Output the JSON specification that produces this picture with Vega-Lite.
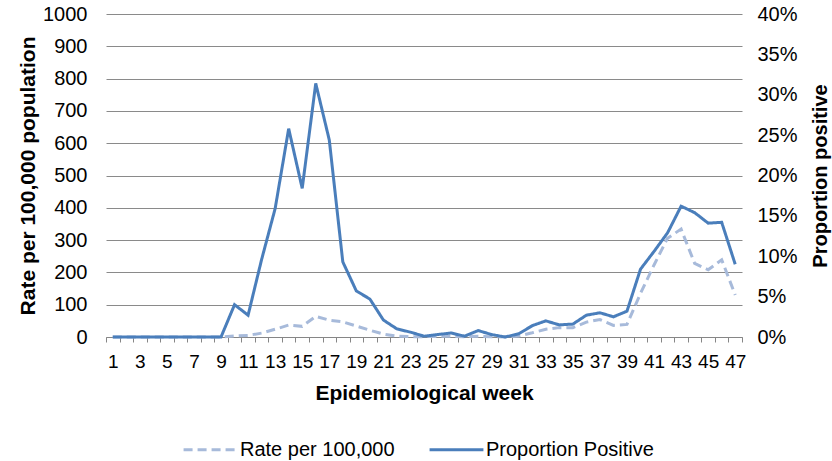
{
  "$schema": "https://vega.github.io/schema/vega-lite/v6.json",
  "width": 636,
  "height": 323,
  "autosize": "none",
  "padding": {"left": 106, "top": 14, "right": 90, "bottom": 124},
  "background": "white",
  "config": {
    "font": "Liberation Sans",
    "view": {"stroke": null},
    "axis": {"labelColor": "#000000", "titleColor": "#000000", "labelFontSize": 20, "titleFontSize": 21, "titleFontWeight": "bold", "labelFont": "Liberation Sans", "titleFont": "Liberation Sans"}
  },
  "data": {
    "values": [
      {"week": 1, "rate": 0, "prop": 0},
      {"week": 2, "rate": 0, "prop": 0},
      {"week": 3, "rate": 0, "prop": 0},
      {"week": 4, "rate": 0, "prop": 0},
      {"week": 5, "rate": 0, "prop": 0},
      {"week": 6, "rate": 0, "prop": 0},
      {"week": 7, "rate": 0, "prop": 0},
      {"week": 8, "rate": 0, "prop": 0},
      {"week": 9, "rate": 0, "prop": 0},
      {"week": 10, "rate": 3, "prop": 0.040},
      {"week": 11, "rate": 5, "prop": 0.027},
      {"week": 12, "rate": 12, "prop": 0.096},
      {"week": 13, "rate": 24, "prop": 0.159},
      {"week": 14, "rate": 37, "prop": 0.258},
      {"week": 15, "rate": 33, "prop": 0.184},
      {"week": 16, "rate": 64, "prop": 0.314},
      {"week": 17, "rate": 52, "prop": 0.244},
      {"week": 18, "rate": 47, "prop": 0.093},
      {"week": 19, "rate": 34, "prop": 0.057},
      {"week": 20, "rate": 21, "prop": 0.047},
      {"week": 21, "rate": 9, "prop": 0.021},
      {"week": 22, "rate": 3, "prop": 0.010},
      {"week": 23, "rate": 1, "prop": 0.006},
      {"week": 24, "rate": 1, "prop": 0.001},
      {"week": 25, "rate": 2, "prop": 0.003},
      {"week": 26, "rate": 2, "prop": 0.005},
      {"week": 27, "rate": 1, "prop": 0.001},
      {"week": 28, "rate": 2, "prop": 0.008},
      {"week": 29, "rate": 1, "prop": 0.003},
      {"week": 30, "rate": 0, "prop": 0},
      {"week": 31, "rate": 3, "prop": 0.004},
      {"week": 32, "rate": 13, "prop": 0.014},
      {"week": 33, "rate": 24, "prop": 0.020},
      {"week": 34, "rate": 29, "prop": 0.015},
      {"week": 35, "rate": 29, "prop": 0.016},
      {"week": 36, "rate": 46, "prop": 0.027},
      {"week": 37, "rate": 54, "prop": 0.030},
      {"week": 38, "rate": 36, "prop": 0.025},
      {"week": 39, "rate": 39, "prop": 0.032},
      {"week": 40, "rate": 135, "prop": 0.084},
      {"week": 41, "rate": 223, "prop": 0.106},
      {"week": 42, "rate": 306, "prop": 0.129},
      {"week": 43, "rate": 334, "prop": 0.162},
      {"week": 44, "rate": 228, "prop": 0.154},
      {"week": 45, "rate": 208, "prop": 0.141},
      {"week": 46, "rate": 239, "prop": 0.142},
      {"week": 47, "rate": 130, "prop": 0.090}
    ]
  },
  "encoding": {
    "x": {
      "field": "week",
      "type": "ordinal",
      "scale": {"type": "band", "paddingInner": 0, "paddingOuter": 0},
      "axis": {
        "title": "Epidemiological week",
        "labelAngle": 0,
        "labelFontSize": 19,
        "labelOverlap": false,
        "labelExpr": "datum.value % 2 == 1 ? datum.label : ''",
        "tickBand": "extent",
        "tickSize": 5,
        "tickColor": "#868686",
        "domainColor": "#868686",
        "labelPadding": 10,
        "titlePadding": 11,
        "grid": false
      }
    }
  },
  "layer": [
    {
      "mark": {"type": "line", "strokeWidth": 3, "strokeCap": "butt"},
      "encoding": {
        "y": {
          "field": "rate",
          "type": "quantitative",
          "scale": {"domain": [0, 1000]},
          "axis": {
            "title": "Rate per 100,000 population",
            "values": [0, 100, 200, 300, 400, 500, 600, 700, 800, 900, 1000],
            "format": "d",
            "domain": false,
            "ticks": false,
            "grid": true,
            "gridColor": "#8a8a8a",
            "gridWidth": 1,
            "labelPadding": 19,
            "titlePadding": 4
          }
        },
        "color": {
          "datum": "Rate per 100,000",
          "scale": {"domain": ["Rate per 100,000", "Proportion Positive"], "range": ["#A7BADA", "#4A7EBB"]},
          "legend": {
            "title": null,
            "orient": "none",
            "direction": "horizontal",
            "legendX": 76,
            "legendY": 407,
            "symbolType": "stroke",
            "symbolSize": 2900,
            "symbolStrokeWidth": 3,
            "labelFontSize": 20,
            "labelLimit": 400,
            "labelColor": "#000000",
            "labelOffset": 1,
            "columnPadding": 28,
            "padding": 0
          }
        },
        "strokeDash": {
          "datum": "Rate per 100,000",
          "scale": {"domain": ["Rate per 100,000", "Proportion Positive"], "range": [[9, 5], [1, 0]]},
          "legend": {
            "title": null,
            "orient": "none",
            "direction": "horizontal",
            "legendX": 76,
            "legendY": 407,
            "symbolType": "stroke",
            "symbolSize": 2900,
            "symbolStrokeWidth": 3,
            "labelFontSize": 20,
            "labelLimit": 400,
            "labelColor": "#000000",
            "labelOffset": 1,
            "columnPadding": 28,
            "padding": 0
          }
        }
      }
    },
    {
      "mark": {"type": "line", "strokeWidth": 3, "strokeCap": "butt"},
      "encoding": {
        "y": {
          "field": "prop",
          "type": "quantitative",
          "scale": {"domain": [0, 0.4]},
          "axis": {
            "title": "Proportion positive",
            "titleFontSize": 20,
            "titleAngle": 270,
            "orient": "right",
            "values": [0, 0.05, 0.1, 0.15, 0.2, 0.25, 0.3, 0.35, 0.4],
            "format": ".0%",
            "domain": false,
            "ticks": false,
            "grid": false,
            "labelPadding": 15,
            "titlePadding": 33
          }
        },
        "color": {"datum": "Proportion Positive"},
        "strokeDash": {"datum": "Proportion Positive"}
      }
    }
  ],
  "resolve": {"scale": {"y": "independent"}}
}
